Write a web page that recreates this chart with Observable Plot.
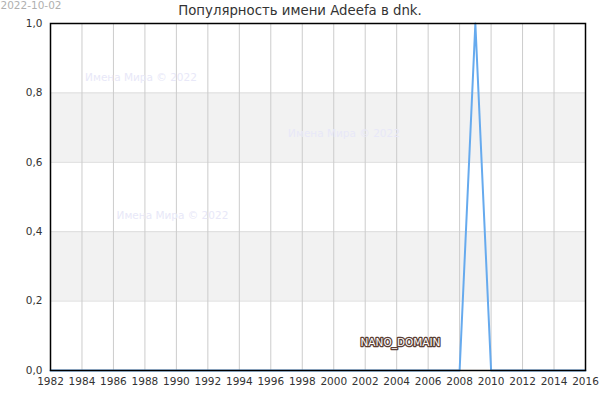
<!DOCTYPE html>
<html>
<head>
<meta charset="utf-8">
<script src="https://cdn.jsdelivr.net/npm/d3@7"></script>
<script src="https://cdn.jsdelivr.net/npm/@observablehq/plot@0.6"></script>
<style>
  html, body { margin: 0; padding: 0; background: #fff; }
  #chart svg { display: block; font-family: "DejaVu Sans", sans-serif; }
</style>
</head>
<body>
<div id="chart"></div>
<script>
const years = d3.range(1982, 2017);
const values = years.map(y => (y === 2009 ? 1 : 0));
const xTicks = d3.range(1982, 2017, 2);
const gridYears = d3.range(1984, 2016, 2);
const yTicks = [0, 0.2, 0.4, 0.6, 0.8, 1.0];
const bandLow = [0.2, 0.6];
const bandHigh = [0.4, 0.8];
const gridLevels = [0.2, 0.4, 0.6, 0.8];
const watermarkX = [1984.2, 1997.1, 1986.2];
const watermarkY = [0.845, 0.683, 0.446];
const titleText = "Популярность имени Adeefa в dnk.";
const dateText = "2022-10-02";
const brandText = "NANO_DOMAIN";

const data = years.map((y, i) => ({year: y, value: values[i]}));
const bands = bandLow.map((lo, i) => ({lo, hi: bandHigh[i]}));
const marks = watermarkX.map((x, i) => ({x, y: watermarkY[i]}));

const chart = Plot.plot({
  width: 600,
  height: 400,
  marginLeft: 50,
  marginRight: 15,
  marginTop: 23,
  marginBottom: 30,
  style: {fontFamily: "'DejaVu Sans', sans-serif", fontSize: "10px", color: "#333", background: "#fff"},
  x: {domain: [1982, 2016], label: null},
  y: {domain: [0, 1], label: null},
  marks: [
    Plot.rect(bands, {y1: "lo", y2: "hi", fill: "#f2f2f2"}),
    Plot.ruleY(gridLevels, {stroke: "#dddddd", strokeWidth: 1}),
    Plot.ruleX(gridYears, {stroke: "#cccccc", strokeWidth: 1}),
    Plot.text(marks, {x: "x", y: "y", text: () => "Имена Мира © 2022", fill: "#e8e8f8", fontSize: 10.5, textAnchor: "start"}),
    Plot.line(data, {x: "year", y: "value", stroke: "#66aaee", strokeWidth: 2}),
    Plot.axisX({ticks: xTicks, tickFormat: d => String(d), tickSize: 0, tickPadding: 7, fontSize: 10.5, fill: "#333", label: null}),
    Plot.axisY({ticks: yTicks, tickFormat: d => d.toFixed(1).replace(".", ","), tickSize: 0, tickPadding: 8, fontSize: 10.5, fill: "#333", label: null}),
    Plot.text([brandText], {x: 2001.7, y: 0.081, text: d => d, fill: "#ffffff", stroke: "#5a3d33", strokeWidth: 2.5, fontSize: 10.5, textAnchor: "start"}),
    Plot.frame({stroke: "#000", strokeWidth: 1.5}),
    Plot.text([titleText], {frameAnchor: "top", dx: -18, dy: -13, lineAnchor: "middle", text: d => d, fontSize: 13.3, fill: "#333"}),
    Plot.text([dateText], {frameAnchor: "top-left", dx: -50, dy: -17.5, lineAnchor: "middle", text: d => d, fontSize: 10.5, fill: "#b0b0b0", textAnchor: "start"})
  ]
});
document.getElementById("chart").appendChild(chart);
</script>
</body>
</html>
